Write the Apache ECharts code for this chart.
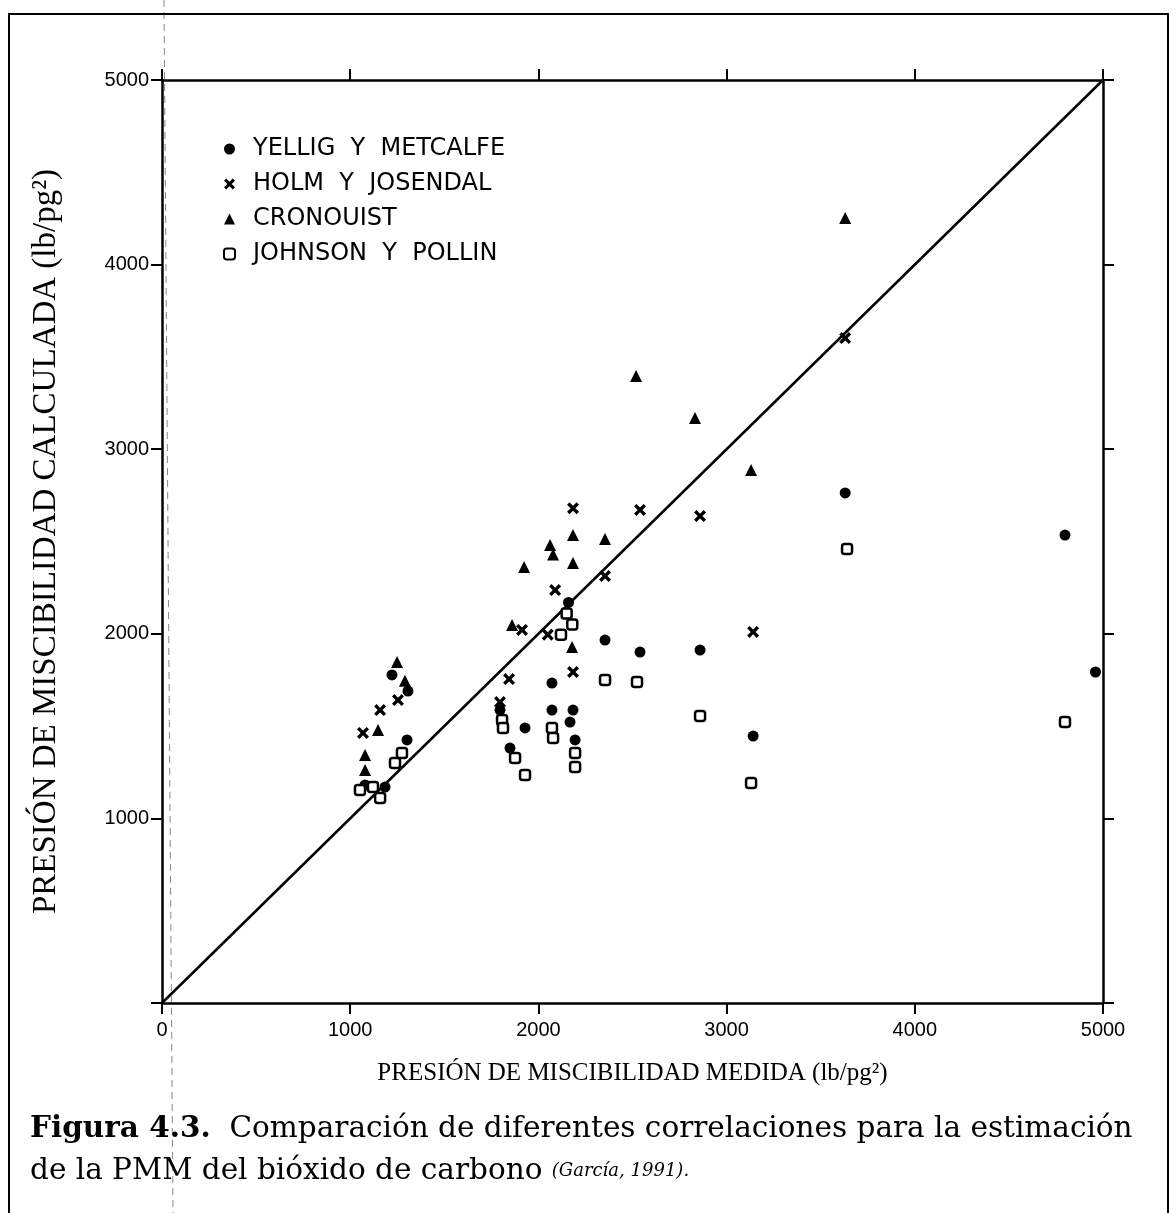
<!DOCTYPE html>
<html>
<head>
<meta charset="utf-8">
<script src="https://cdn.jsdelivr.net/npm/echarts@6/dist/echarts.min.js"></script>
<style>
  html, body { margin: 0; padding: 0; background: #ffffff; }
  #chart { width: 1176px; height: 1213px; }
</style>
</head>
<body>
<div id="chart"></div>
<script>
// Measured vs. calculated CO2 minimum miscibility pressure (lb/pg²)
const axisTicks = [0, 1000, 2000, 3000, 4000, 5000];

const seriesNames = ['YELLIG Y METCALFE', 'HOLM Y JOSENDAL', 'CRONOUIST', 'JOHNSON Y POLLIN'];

// [medida, calculada]
const yelligMetcalfe = [
  [1222, 1777], [1307, 1690], [1302, 1425], [1079, 1181], [1185, 1170],
  [2160, 2170], [2072, 1733], [2072, 1587], [2184, 1587], [2168, 1522],
  [2195, 1425], [1929, 1490], [1849, 1381], [1796, 1587],
  [2354, 1966], [2540, 1901], [2859, 1912], [3141, 1446],
  [3630, 2763], [4798, 2535], [4960, 1793]
];

const holmJosendal = [
  [1254, 1641], [1159, 1587], [1068, 1463],
  [2184, 2680], [2089, 2237], [1913, 2021], [2050, 1995],
  [1844, 1755], [1796, 1630], [2184, 1793],
  [2354, 2313], [2540, 2671], [2859, 2638], [3141, 2010], [3630, 3602]
];

const cronouist = [
  [1249, 1847], [1291, 1745], [1148, 1479], [1079, 1343], [1079, 1262],
  [1860, 2048], [1924, 2362], [2062, 2481], [2078, 2430], [2184, 2535],
  [2184, 2383], [2179, 1928], [2354, 2513],
  [2519, 3396], [2832, 3169], [3130, 2887], [3630, 4252]
];

const johnsonPollin = [
  [1275, 1354], [1238, 1300], [1052, 1154], [1121, 1170], [1159, 1110],
  [2150, 2110], [2180, 2050], [2120, 1995],
  [1807, 1533], [1812, 1490], [1876, 1327], [1929, 1235],
  [2072, 1490], [2078, 1436], [2195, 1354], [2195, 1278],
  [2354, 1750], [2524, 1739], [2859, 1555], [3130, 1192],
  [3640, 2459], [4798, 1522]
];

// 1:1 reference line
const identityLine = [[0, 0], [5000, 5000]];

const crossPath = 'path://M2,0 L5,3 L8,0 L10,2 L7,5 L10,8 L8,10 L5,7 L2,10 L0,8 L3,5 L0,2 Z';

const chart = echarts.init(document.getElementById('chart'), null, { renderer: 'canvas' });

const axisLine = { show: true, onZero: false, lineStyle: { color: '#000', width: 2.5 } };
const axisTick = { show: true, inside: false, length: 11, lineStyle: { color: '#000', width: 2 } };
const plain = v => String(v);

chart.setOption({
  animation: false,
  backgroundColor: '#ffffff',
  grid: { left: 162, top: 80, right: 73, bottom: 210, containLabel: false },
  xAxis: [
    {
      type: 'value', min: 0, max: 5000, interval: 1000, position: 'bottom',
      axisLine, axisTick, splitLine: { show: false },
      axisLabel: { margin: 17, formatter: plain, fontFamily: 'Liberation Sans', fontSize: 20, color: '#000' },
      name: 'PRESIÓN DE MISCIBILIDAD MEDIDA (lb/pg²)',
      nameLocation: 'middle', nameGap: 58,
      nameTextStyle: { fontFamily: 'Liberation Serif', fontSize: 25, color: '#000' }
    },
    {
      type: 'value', min: 0, max: 5000, interval: 1000, position: 'top',
      axisLine, axisTick, splitLine: { show: false }, axisLabel: { show: false }
    }
  ],
  yAxis: [
    {
      type: 'value', min: 0, max: 5000, interval: 1000, position: 'left',
      axisLine, axisTick, splitLine: { show: false },
      axisLabel: { margin: 13, formatter: v => (v === 0 ? '' : String(v)),
                   fontFamily: 'Liberation Sans', fontSize: 20, color: '#000' },
      name: 'PRESIÓN DE MISCIBILIDAD CALCULADA (lb/pg²)',
      nameLocation: 'middle', nameGap: 99, nameRotate: 90,
      nameTextStyle: { fontFamily: 'Liberation Serif', fontSize: 33, color: '#000' }
    },
    {
      type: 'value', min: 0, max: 5000, interval: 1000, position: 'right',
      axisLine, axisTick, splitLine: { show: false }, axisLabel: { show: false }
    }
  ],
  legend: {
    data: seriesNames,
    orient: 'vertical',
    left: 218, top: 132,
    itemWidth: 11, itemHeight: 11, itemGap: 11,
    selectedMode: false,
    formatter: n => n.replace(/ Y /g, '  Y  '),
    textStyle: { fontFamily: 'DejaVu Sans', fontSize: 24, color: '#000', padding: [0, 0, 0, 13] }
  },
  series: [
    {
      name: seriesNames[0], type: 'scatter', data: yelligMetcalfe,
      symbol: 'circle', symbolSize: 11,
      itemStyle: { color: '#000', opacity: 1 }
    },
    {
      name: seriesNames[1], type: 'scatter', data: holmJosendal,
      symbol: crossPath, symbolSize: 12,
      itemStyle: { color: '#000', opacity: 1 }
    },
    {
      name: seriesNames[2], type: 'scatter', data: cronouist,
      symbol: 'triangle', symbolSize: 12,
      itemStyle: { color: '#000', opacity: 1 }
    },
    {
      name: seriesNames[3], type: 'scatter', data: johnsonPollin,
      symbol: 'roundRect', symbolSize: 10,
      itemStyle: { color: '#fff', borderColor: '#000', borderWidth: 2.5, opacity: 1 }
    },
    {
      name: 'identidad', type: 'line', data: identityLine,
      symbol: 'none', silent: true, z: 1,
      lineStyle: { color: '#000', width: 2.5 }
    }
  ],
  graphic: [
    // figure frame
    { type: 'polyline', silent: true, shape: { points: [[9, 1213], [9, 14], [1168, 14], [1168, 1213]] },
      style: { stroke: '#000', lineWidth: 2, fill: null } },
    // fold mark running down the page
    { type: 'line', silent: true, z: -1, shape: { x1: 164, y1: 0, x2: 173, y2: 1213 },
      style: { stroke: '#888', lineWidth: 1, lineDash: [7, 5] } },
    // caption
    {
      type: 'text', left: 30, top: 1114, silent: true,
      style: {
        text: '{b|Figura 4.3.}{n|  Comparación de diferentes correlaciones para la estimación}\n' +
              '{n|de la PMM del bióxido de carbono }{i|(García, 1991).}',
        rich: {
          b: { fontFamily: 'DejaVu Serif', fontWeight: 'bold', fontSize: 29.5, fill: '#000', lineHeight: 42 },
          n: { fontFamily: 'DejaVu Serif', fontSize: 29.5, fill: '#000', lineHeight: 42 },
          i: { fontFamily: 'DejaVu Serif', fontStyle: 'italic', fontSize: 18, fill: '#000', lineHeight: 42 }
        }
      }
    }
  ]
});
</script>
</body>
</html>
